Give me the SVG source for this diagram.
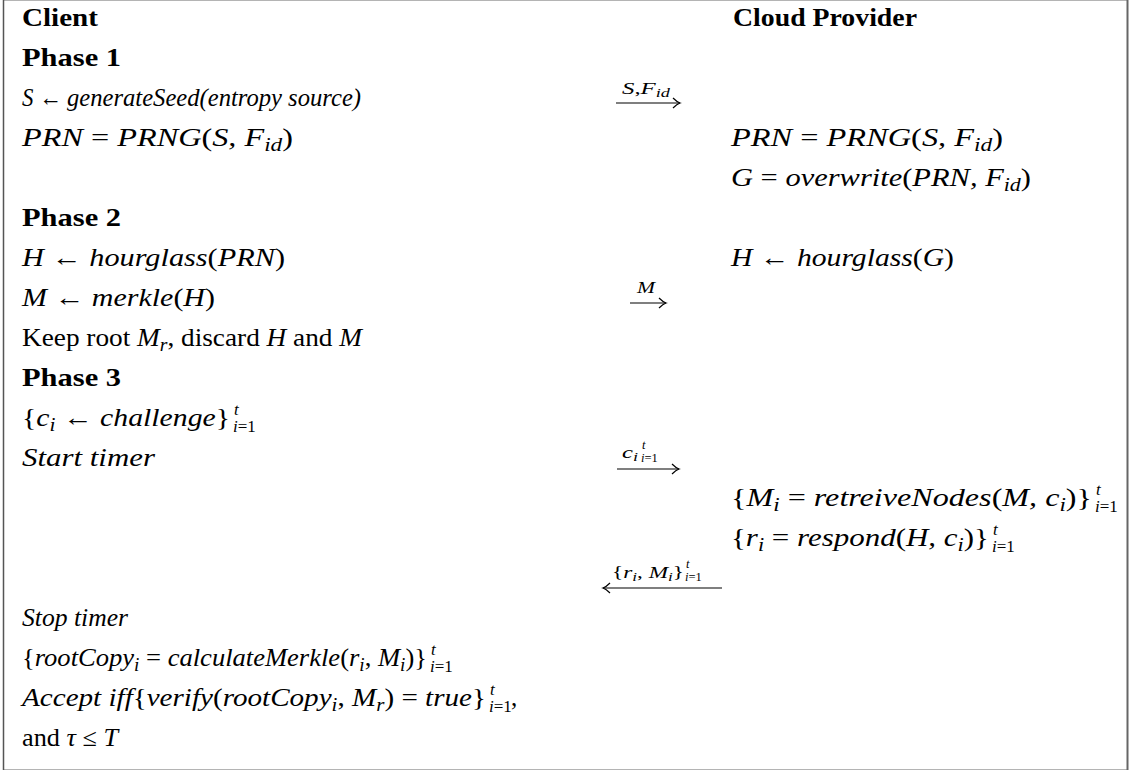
<svg xmlns="http://www.w3.org/2000/svg" width="1137" height="772" viewBox="0 0 1137 772">
  <defs>
    <style>
      text { font-family: "Liberation Serif", "Times New Roman", serif; font-size: 25px; fill: #000; }
      .b { font-weight: bold; }
      .i { font-style: italic; }
      .sub { font-size: 18px; }
      .sc { font-size: 17px; }
      .lbl { font-size: 17px; }
      .lbls { font-size: 12.5px; }
      .msg { stroke: #000; stroke-width: 1.2; fill: none; }
    </style>
    <marker id="head" viewBox="-10 -7 12 14" refX="0" refY="0" markerWidth="12" markerHeight="14" markerUnits="userSpaceOnUse" orient="auto">
      <path d="M-7,-5 Q-3,-1 0,0 Q-3,1 -7,5" fill="none" stroke="#000" stroke-width="1.2"/>
    </marker>
  </defs>

  <rect width="1137" height="772" fill="#fff"/>

  <!-- frame -->
  <g id="frame">
    <line x1="3" y1="0.5" x2="1128" y2="0.5" stroke="#b4b4b4" stroke-width="1"/>
    <line x1="3" y1="769.5" x2="1128" y2="769.5" stroke="#b4b4b4" stroke-width="1"/>
    <line x1="3.5" y1="0" x2="3.5" y2="770" stroke="#555" stroke-width="1.5"/>
    <line x1="1127.5" y1="0" x2="1127.5" y2="770" stroke="#666" stroke-width="2"/>
  </g>

  <!-- client column -->
  <g id="client">
    <text class="b" x="22" y="26" textLength="76" lengthAdjust="spacingAndGlyphs">Client</text>

    <g id="phase1-client">
      <text class="b" x="22" y="66" textLength="99" lengthAdjust="spacingAndGlyphs">Phase 1</text>
      <text x="22" y="106" textLength="40" lengthAdjust="spacingAndGlyphs"><tspan class="i">S</tspan> ←</text>
      <text class="i" x="67" y="106" textLength="294" lengthAdjust="spacingAndGlyphs">generateSeed(entropy source)</text>
      <text x="22" y="146" textLength="271" lengthAdjust="spacingAndGlyphs"><tspan class="i">PRN</tspan> = <tspan class="i">PRNG</tspan>(<tspan class="i">S, F</tspan><tspan class="sub i" dy="5">id</tspan><tspan dy="-5">)</tspan></text>
    </g>

    <g id="phase2-client">
      <text class="b" x="22" y="226" textLength="99" lengthAdjust="spacingAndGlyphs">Phase 2</text>
      <text x="22" y="266" textLength="263" lengthAdjust="spacingAndGlyphs"><tspan class="i">H</tspan> ← <tspan class="i">hourglass</tspan>(<tspan class="i">PRN</tspan>)</text>
      <text x="22" y="306" textLength="193" lengthAdjust="spacingAndGlyphs"><tspan class="i">M</tspan> ← <tspan class="i">merkle</tspan>(<tspan class="i">H</tspan>)</text>
      <text x="22" y="346" textLength="340" lengthAdjust="spacingAndGlyphs">Keep root <tspan class="i">M</tspan><tspan class="sub i" dy="5">r</tspan><tspan dy="-5">, discard </tspan><tspan class="i">H</tspan> and <tspan class="i">M</tspan></text>
    </g>

    <g id="phase3-client">
      <text class="b" x="22" y="386" textLength="99" lengthAdjust="spacingAndGlyphs">Phase 3</text>
      <text x="22" y="426" textLength="208" lengthAdjust="spacingAndGlyphs">{<tspan class="i">c</tspan><tspan class="sub i" dy="5">i</tspan><tspan dy="-5"> ← </tspan><tspan class="i">challenge</tspan>}</text>
      <text class="sc i" x="234" y="415">t</text>
      <text class="sc" x="233" y="432"><tspan class="i">i</tspan>=1</text>
      <text class="i" x="22" y="466" textLength="133" lengthAdjust="spacingAndGlyphs">Start timer</text>

      <text class="i" x="22" y="626" textLength="106" lengthAdjust="spacingAndGlyphs">Stop timer</text>
      <text x="22" y="666" textLength="405" lengthAdjust="spacingAndGlyphs">{<tspan class="i">rootCopy</tspan><tspan class="sub i" dy="5">i</tspan><tspan dy="-5"> = </tspan><tspan class="i">calculateMerkle</tspan>(<tspan class="i">r</tspan><tspan class="sub i" dy="5">i</tspan><tspan dy="-5">, </tspan><tspan class="i">M</tspan><tspan class="sub i" dy="5">i</tspan><tspan dy="-5">)}</tspan></text>
      <text class="sc i" x="431" y="655">t</text>
      <text class="sc" x="430" y="672"><tspan class="i">i</tspan>=1</text>
      <text x="22" y="706" textLength="464" lengthAdjust="spacingAndGlyphs"><tspan class="i">Accept iff</tspan>{<tspan class="i">verify</tspan>(<tspan class="i">rootCopy</tspan><tspan class="sub i" dy="5">i</tspan><tspan dy="-5">, </tspan><tspan class="i">M</tspan><tspan class="sub i" dy="5">r</tspan><tspan dy="-5">) = </tspan><tspan class="i">true</tspan>}</text>
      <text class="sc i" x="490" y="695">t</text>
      <text class="sc" x="489" y="712"><tspan class="i">i</tspan>=1</text>
      <text x="511" y="706">,</text>
      <text x="22" y="746" textLength="96" lengthAdjust="spacingAndGlyphs">and <tspan class="i">τ</tspan> ≤ <tspan class="i">T</tspan></text>
    </g>
  </g>

  <!-- provider column -->
  <g id="provider">
    <text class="b" x="733" y="26" textLength="184" lengthAdjust="spacingAndGlyphs">Cloud Provider</text>

    <g id="phase1-provider">
      <text x="731" y="146" textLength="272" lengthAdjust="spacingAndGlyphs"><tspan class="i">PRN</tspan> = <tspan class="i">PRNG</tspan>(<tspan class="i">S, F</tspan><tspan class="sub i" dy="5">id</tspan><tspan dy="-5">)</tspan></text>
      <text x="731" y="186" textLength="300" lengthAdjust="spacingAndGlyphs"><tspan class="i">G</tspan> = <tspan class="i">overwrite</tspan>(<tspan class="i">PRN, F</tspan><tspan class="sub i" dy="5">id</tspan><tspan dy="-5">)</tspan></text>
    </g>

    <g id="phase2-provider">
      <text x="731" y="266" textLength="223" lengthAdjust="spacingAndGlyphs"><tspan class="i">H</tspan> ← <tspan class="i">hourglass</tspan>(<tspan class="i">G</tspan>)</text>
    </g>

    <g id="phase3-provider">
      <text x="731" y="506" textLength="361" lengthAdjust="spacingAndGlyphs">{<tspan class="i">M</tspan><tspan class="sub i" dy="5">i</tspan><tspan dy="-5"> = </tspan><tspan class="i">retreiveNodes</tspan>(<tspan class="i">M, c</tspan><tspan class="sub i" dy="5">i</tspan><tspan dy="-5">)}</tspan></text>
      <text class="sc i" x="1096" y="495">t</text>
      <text class="sc" x="1095" y="512"><tspan class="i">i</tspan>=1</text>
      <text x="731" y="546" textLength="258" lengthAdjust="spacingAndGlyphs">{<tspan class="i">r</tspan><tspan class="sub i" dy="5">i</tspan><tspan dy="-5"> = </tspan><tspan class="i">respond</tspan>(<tspan class="i">H, c</tspan><tspan class="sub i" dy="5">i</tspan><tspan dy="-5">)}</tspan></text>
      <text class="sc i" x="993" y="535">t</text>
      <text class="sc" x="992" y="552"><tspan class="i">i</tspan>=1</text>
    </g>
  </g>

  <!-- messages between the parties -->
  <g id="connectors">
    <g id="msg-seed">
      <line class="msg" x1="616" y1="103" x2="680" y2="103" marker-end="url(#head)"/>
      <text class="lbl" x="622" y="94" textLength="48" lengthAdjust="spacingAndGlyphs"><tspan class="i">S</tspan>,<tspan class="i">F</tspan><tspan class="lbls i" dy="3">id</tspan></text>
    </g>
    <g id="msg-merkle">
      <line class="msg" x1="630" y1="303" x2="666" y2="303" marker-end="url(#head)"/>
      <text class="lbl i" x="637" y="293" textLength="18" lengthAdjust="spacingAndGlyphs">M</text>
    </g>
    <g id="msg-challenge">
      <line class="msg" x1="617" y1="469" x2="679" y2="469" marker-end="url(#head)"/>
      <text class="lbl i" x="622" y="458" textLength="16" lengthAdjust="spacingAndGlyphs">c<tspan class="lbls" dy="3">i</tspan></text>
      <text class="lbls i" x="642" y="449">t</text>
      <text class="lbls" x="641" y="462"><tspan class="i">i</tspan>=1</text>
    </g>
    <g id="msg-response">
      <line class="msg" x1="722" y1="588" x2="603" y2="588" marker-end="url(#head)"/>
      <text class="lbl" x="612" y="578" textLength="72" lengthAdjust="spacingAndGlyphs">{<tspan class="i">r</tspan><tspan class="lbls i" dy="3">i</tspan><tspan dy="-3">, </tspan><tspan class="i">M</tspan><tspan class="lbls i" dy="3">i</tspan><tspan dy="-3">}</tspan></text>
      <text class="lbls i" x="686" y="568">t</text>
      <text class="lbls" x="685" y="581"><tspan class="i">i</tspan>=1</text>
    </g>
  </g>
</svg>
